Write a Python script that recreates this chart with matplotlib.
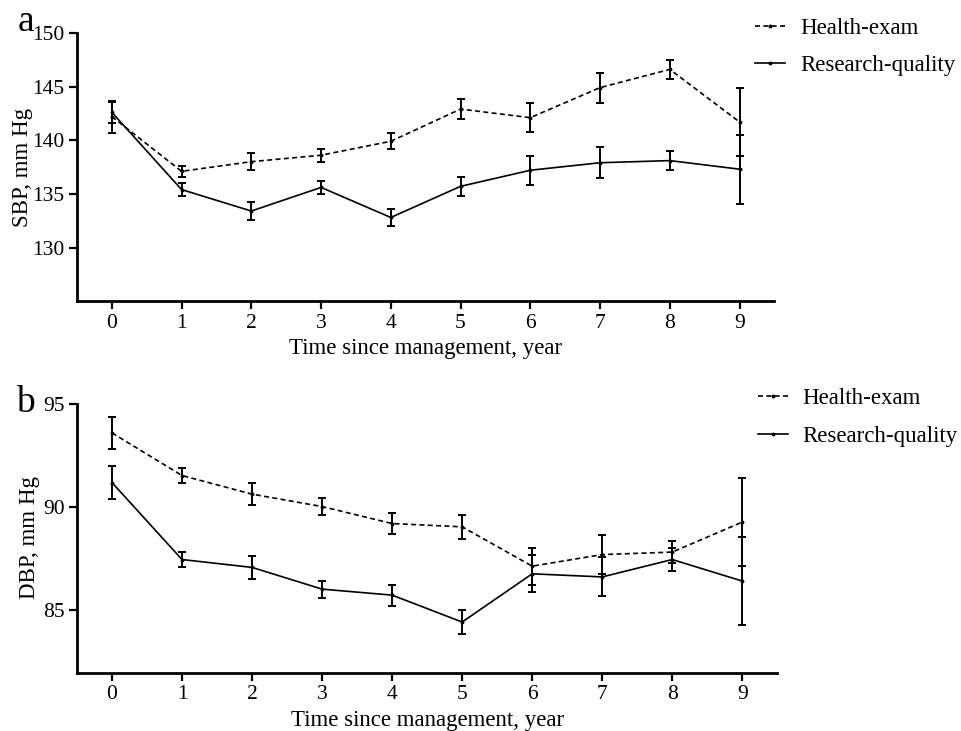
import matplotlib
matplotlib.use("Agg")
import matplotlib.pyplot as plt

plt.rcParams["font.family"] = ["Liberation Serif", "DejaVu Serif"]

years = [0, 1, 2, 3, 4, 5, 6, 7, 8, 9]

sbp_health = [142.2, 137.1, 138.0, 138.6, 139.9, 142.9, 142.1, 144.9, 146.6, 141.7]
sbp_health_err = [1.5, 0.5, 0.8, 0.6, 0.75, 0.9, 1.35, 1.4, 0.85, 3.2]
sbp_research = [142.6, 135.4, 133.4, 135.6, 132.8, 135.7, 137.2, 137.9, 138.1, 137.3]
sbp_research_err = [1.0, 0.6, 0.8, 0.6, 0.8, 0.9, 1.35, 1.45, 0.85, 3.2]

dbp_health = [93.58, 91.52, 90.62, 90.02, 89.2, 89.04, 87.14, 87.7, 87.82, 89.27]
dbp_health_err = [0.78, 0.35, 0.54, 0.39, 0.5, 0.58, 0.89, 0.93, 0.55, 2.12]
dbp_research = [91.18, 87.46, 87.08, 86.03, 85.74, 84.44, 86.77, 86.62, 87.46, 86.42]
dbp_research_err = [0.78, 0.36, 0.55, 0.41, 0.51, 0.59, 0.9, 0.94, 0.57, 2.13]


def draw_panel(fig, ax, health, health_err, research, research_err, ylabel, ylim, yticks,
               letter, letter_pos, ylabel_x, legend_pos):
    ax.errorbar(years, health, yerr=health_err, color="black", linestyle=(0, (3, 2)),
                linewidth=1.2, marker="o", markersize=1.8, capsize=3, elinewidth=1.4,
                capthick=1.4, label="Health-exam")
    ax.errorbar(years, research, yerr=research_err, color="black", linestyle="-",
                linewidth=1.2, marker="o", markersize=1.8, capsize=3, elinewidth=1.4,
                capthick=1.4, label="Research-quality")
    ax.set_xlim(-0.5, 9.5)
    ax.set_ylim(*ylim)
    ax.set_xticks(years)
    ax.set_yticks(yticks)
    ax.spines["top"].set_visible(False)
    ax.spines["right"].set_visible(False)
    ax.spines["left"].set_linewidth(2)
    ax.spines["bottom"].set_linewidth(2)
    ax.tick_params(axis="both", width=1.6, length=6, labelsize=15.5, pad=3)
    ax.set_xlabel("Time since management, year", fontsize=16.5, labelpad=4)
    ax.set_ylabel(ylabel, fontsize=16.5)
    ax.yaxis.set_label_coords(ylabel_x, 0.5)
    fig.text(letter_pos[0], letter_pos[1], letter, fontsize=27, ha="center", va="baseline")
    handles, labels = ax.get_legend_handles_labels()
    handles = [h[0] for h in handles]
    ax.legend(handles, labels, loc="upper left", bbox_to_anchor=legend_pos,
              bbox_transform=fig.transFigure, borderaxespad=0, borderpad=0, frameon=False,
              fontsize=16.5, handlelength=1.3, handletextpad=0.65, labelspacing=0.72)


fig = plt.figure(figsize=(9.62, 7.31), dpi=100)
ax1 = fig.add_axes([0.080, 0.588, 0.725, 0.367])
ax2 = fig.add_axes([0.080, 0.080, 0.728, 0.368])

draw_panel(fig, ax1, sbp_health, sbp_health_err, sbp_research, sbp_research_err,
           "SBP, mm Hg", (125, 150), [130, 135, 140, 145, 150], "a",
           (0.027, 0.958), -0.063, (0.785, 0.976))
draw_panel(fig, ax2, dbp_health, dbp_health_err, dbp_research, dbp_research_err,
           "DBP, mm Hg", (82, 95), [85, 90, 95], "b",
           (0.026, 0.437), -0.053, (0.788, 0.469))

fig.savefig("out.png", dpi=100)
